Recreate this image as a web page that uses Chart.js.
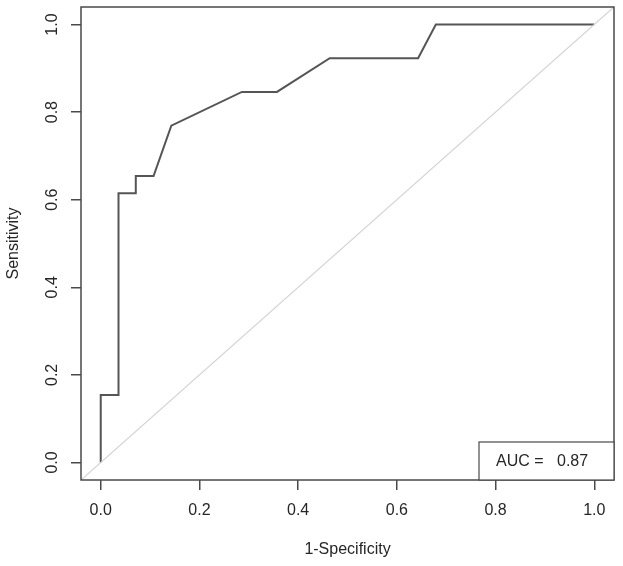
<!DOCTYPE html>
<html>
<head>
<meta charset="utf-8">
<script src="https://cdn.jsdelivr.net/npm/chart.js@4"></script>
<style>
  html, body { margin: 0; padding: 0; background: #fff; }
  #wrap { width: 623px; height: 566px; }
</style>
</head>
<body>
<div id="wrap"><canvas id="rocChart" width="623" height="566"></canvas></div>
<script>
// ROC curve (1-specificity vs sensitivity)
var fpr = [0, 0, 0.036, 0.036, 0.071, 0.071, 0.107, 0.143, 0.286, 0.357, 0.464, 0.643, 0.679, 1];
var tpr = [0, 0.154, 0.154, 0.615, 0.615, 0.654, 0.654, 0.769, 0.846, 0.846, 0.923, 0.923, 1, 1];
var tickVals = [0, 0.2, 0.4, 0.6, 0.8, 1];
var aucLabel = 'AUC =';
var aucValue = '0.87';

var rocPoints = fpr.map(function(x, i) { return {x: x, y: tpr[i]}; });
// reference line y = x, runs across the whole plot region
var diagPoints = [{x: -0.04, y: -0.04}, {x: 1.04, y: 1.04}];

var FONT = '"Liberation Sans", Arial, sans-serif';
var boxColor = '#4a4a4a';
var textColor = '#262626';

// box round the plot and the AUC legend box
var boxPlugin = {
  id: 'boxPlugin',
  afterDraw: function(chart) {
    var a = chart.chartArea, c = chart.ctx;
    c.save();
    c.strokeStyle = boxColor;
    c.lineWidth = 1.5;
    c.strokeRect(a.left, a.top, a.right - a.left, a.bottom - a.top);
    // legend at bottom right
    var w = 135, h = 38;
    c.lineWidth = 1.2;
    c.fillStyle = '#fff';
    c.fillRect(a.right - w, a.bottom - h, w, h);
    c.strokeRect(a.right - w, a.bottom - h, w, h);
    c.fillStyle = textColor;
    c.font = '16px ' + FONT;
    c.textBaseline = 'middle';
    c.fillText(aucLabel, a.right - w + 17, a.bottom - h / 2 + 1);
    c.fillText(aucValue, a.right - w + 78, a.bottom - h / 2 + 1);
    c.restore();
  }
};

var ctx = document.getElementById('rocChart');
var myChart = new Chart(ctx, {
  type: 'scatter',
  data: {
    datasets: [{
      data: diagPoints,
      showLine: true,
      borderColor: '#d3d3d3',
      borderWidth: 1.2,
      pointRadius: 0
    }, {
      data: rocPoints,
      showLine: true,
      borderColor: '#555',
      borderWidth: 2,
      pointRadius: 0
    }]
  },
  plugins: [boxPlugin],
  options: {
    responsive: false,
    animation: false,
    layout: { padding: { top: 7, right: 9, left: 0, bottom: 0 } },
    plugins: { legend: { display: false }, tooltip: { enabled: false } },
    scales: {
      x: {
        type: 'linear',
        min: -0.04, max: 1.04,
        afterBuildTicks: function(scale) { scale.ticks = tickVals.map(function(v) { return {value: v}; }); },
        afterFit: function(scale) {
          scale.height = 86;
          scale.paddingLeft = 0; scale.paddingRight = 0;
        },
        border: { display: false },
        grid: { drawOnChartArea: false, drawTicks: true, tickLength: 10, color: boxColor, lineWidth: 1.5 },
        ticks: {
          padding: 11, color: textColor, font: { family: FONT, size: 16 },
          maxRotation: 0, minRotation: 0,
          callback: function(v) { return v.toFixed(1); }
        },
        title: { display: true, text: '1-Specificity', color: textColor, font: { family: FONT, size: 16 }, padding: { top: 0, bottom: 7 } }
      },
      y: {
        type: 'linear',
        min: -0.04, max: 1.04,
        afterBuildTicks: function(scale) { scale.ticks = tickVals.map(function(v) { return {value: v}; }); },
        afterFit: function(scale) {
          scale.width = 81;
          scale.paddingTop = 0; scale.paddingBottom = 0;
        },
        border: { display: false },
        grid: { drawOnChartArea: false, drawTicks: true, tickLength: 10, color: boxColor, lineWidth: 1.5 },
        ticks: {
          padding: 7, color: textColor, font: { family: FONT, size: 16 },
          minRotation: 90, maxRotation: 90, crossAlign: 'center',
          callback: function(v) { return v.toFixed(1); }
        },
        title: { display: true, text: 'Sensitivity', color: textColor, font: { family: FONT, size: 16 }, padding: { top: 4, bottom: 0 } }
      }
    }
  }
});
</script>
</body>
</html>
